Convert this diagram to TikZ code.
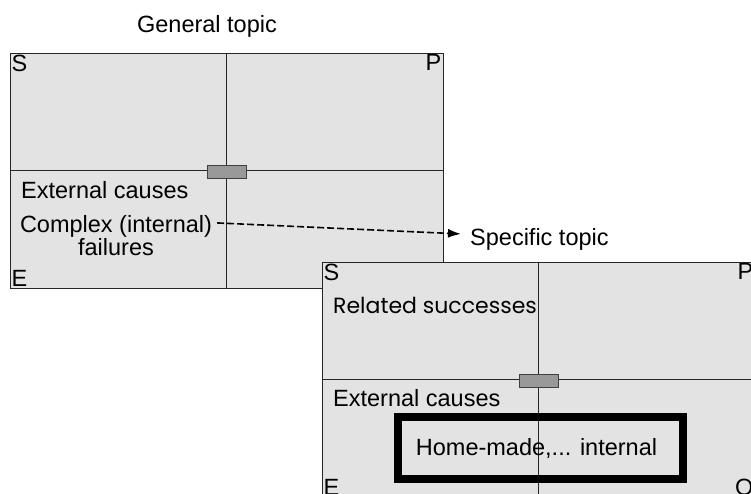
\documentclass[tikz,border=0pt]{standalone}
\usepackage{fontspec}
\setmainfont{Liberation Sans}
\newfontfamily\geofont{Poppins}
\usetikzlibrary{arrows.meta}
\definecolor{panel}{HTML}{E3E3E3}
\definecolor{knob}{HTML}{999999}
\begin{document}
\begin{tikzpicture}[x=1pt,y=-1pt,
  font=\fontsize{23.5}{27}\selectfont,
  quad/.style={draw=black!85, line width=0.9pt, fill=panel,
    minimum width=433pt, minimum height=235pt, inner sep=0pt, outer sep=0pt},
  divider/.style={draw=black!85, line width=0.9pt},
  knobbox/.style={draw=black!75, fill=knob, line width=0.8pt,
    minimum width=39pt, minimum height=13pt, inner sep=0pt},
  corner/.style={inner sep=1.5pt},
  lbl/.style={inner sep=0pt},
  flow/.style={line width=1.6pt, dash pattern=on 7pt off 3pt,
    -{Latex[length=13pt,width=9pt]}},
  frame/.style={draw=black, line width=8pt, minimum width=285pt,
    minimum height=62pt, inner sep=0pt}]
\useasboundingbox (0,0) rectangle (751,493);
\clip (0,0) rectangle (751,493);

% general topic box
\node[quad] (g) at (226.5,170.5) {};
\draw[divider] (g.north) -- (g.south);
\draw[divider] (g.west) -- (g.east);
\node[knobbox] (gk) at ([yshift=-1pt]g.center) {};
\node[corner, anchor=north west] (gs) at (g.north west) {S};
\node[corner, anchor=north east] (gp) at (g.north east) {P};
\node[corner, anchor=south west] (ge) at (g.south west) {E};
\node[lbl, anchor=base] (gt) at (207,32) {General topic};
\node[lbl, anchor=base west] (gext) at (21,198) {External causes};
\node[lbl, anchor=base, inner xsep=5pt] (gcx) at (116,232) {Complex (internal)};
\node[lbl, anchor=base] (gfail) at (116,255) {failures};

% connector
\node[lbl, anchor=base west, inner xsep=9pt] (st) at (461,245) {Specific topic};
\draw[flow] ([yshift=3pt]gcx.east) -- ([yshift=5pt]st.west);

% specific topic box
\node[quad] (s) at (538.5,379.5) {};
\draw[divider] (s.north) -- (s.south);
\draw[divider] (s.west) -- (s.east);
\node[knobbox] (sk) at ([yshift=-1pt]s.center) {};
\node[corner, anchor=north west] (ss) at (s.north west) {S};
\node[corner, anchor=north east] (sp) at (s.north east) {P};
\node[corner, anchor=south west] (se) at (s.south west) {E};
\node[corner, anchor=south east] (so) at (s.south east) {O};
\node[lbl, anchor=base west, font=\geofont\fontsize{22}{26}\selectfont] (rs) at (333,313) {Related successes};
\node[lbl, anchor=base west] (sext) at (333,406) {External causes};
\node[frame] (hm) at (540,447.5) {};
\node[lbl, anchor=base] (hmt) at (536.5,455) {Home-made,... internal};
\end{tikzpicture}
\end{document}
